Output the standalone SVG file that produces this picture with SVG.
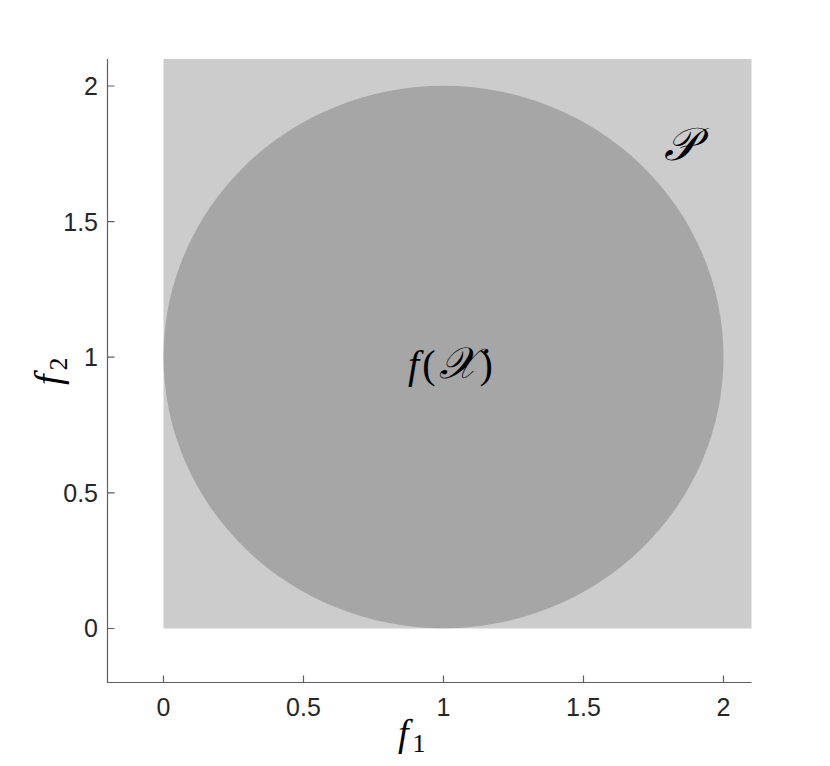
<svg xmlns="http://www.w3.org/2000/svg" width="830" height="766" viewBox="0 0 830 766">
<style>
.ax{stroke:#5e5e5e;stroke-width:1.2;fill:none}
.tl{font-family:"Liberation Sans",Arial,sans-serif;font-size:25px;fill:#262626}
.m{font-family:"Liberation Serif","DejaVu Serif",serif;font-style:italic;fill:#000}
.mr{font-family:"Liberation Serif","DejaVu Serif",serif;fill:#000}
</style>
<rect width="830" height="766" fill="#fff"/>
<g id="region-P">
<rect x="163.5" y="59" width="588" height="569.5" fill="#cccccc"/>
<text class="m" x="680" y="160" font-size="46" text-anchor="middle">𝒫</text>
</g>
<g id="region-fX">
<ellipse cx="443.5" cy="357" rx="280" ry="271.2" fill="#a6a6a6"/>
<text x="452" y="378" text-anchor="middle" font-size="40" letter-spacing="3"><tspan class="m">f</tspan><tspan class="mr">(</tspan><tspan class="m" font-size="44">𝒳</tspan><tspan class="mr">)</tspan></text>
</g>
<g id="axes">
<path class="ax" d="M107.5 59V682.5H751.5"/>
<path class="ax" d="M107.5 628.5h7M107.5 492.9h7M107.5 357.2h7M107.5 221.6h7M107.5 86h7"/>
<path class="ax" d="M163.5 682.5v-7M303.5 682.5v-7M443.5 682.5v-7M583.5 682.5v-7M723.5 682.5v-7"/>
<g class="tl" text-anchor="end">
<text x="98" y="637">0</text>
<text x="98" y="501.5">0.5</text>
<text x="98" y="366">1</text>
<text x="98" y="230.5">1.5</text>
<text x="98" y="95">2</text>
</g>
<g class="tl" text-anchor="middle">
<text x="163.5" y="716">0</text>
<text x="303.5" y="716">0.5</text>
<text x="443.5" y="716">1</text>
<text x="583.5" y="716">1.5</text>
<text x="723.5" y="716">2</text>
</g>
<text x="398" y="746" font-size="38"><tspan class="m">f</tspan><tspan class="mr" font-size="26" dx="4" dy="6">1</tspan></text>
<text transform="translate(61,385) rotate(-90)" font-size="38"><tspan class="m">f</tspan><tspan class="mr" font-size="26" dx="4" dy="6">2</tspan></text>
</g>
</svg>
